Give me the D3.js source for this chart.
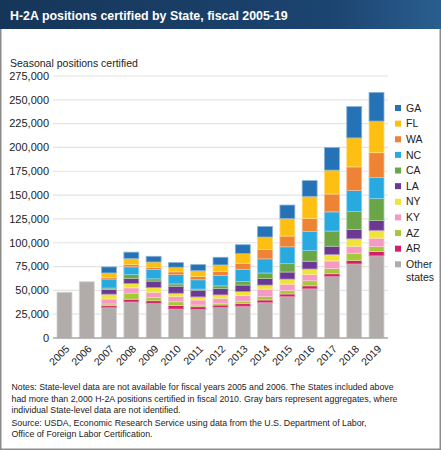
<!DOCTYPE html>
<html><head><meta charset="utf-8">
<script src="https://cdn.jsdelivr.net/npm/d3@7"></script>
<style>
body{margin:0;padding:0;background:#fff;}
svg{display:block;font-family:"Liberation Sans",Arial,Helvetica,sans-serif;}
</style></head>
<body>
<svg id="c" width="441" height="450"></svg>
<script>
const years = ["2005","2006","2007","2008","2009","2010","2011","2012","2013","2014","2015","2016","2017","2018","2019"];
const other = [48000,59000,31800,37800,36400,30400,30100,32200,33300,37100,43400,51600,64600,77700,86200];
const AR = [0,0,2100,2900,2750,3700,2750,2450,2750,2850,2850,3200,2850,3800,4550];
const AZ = [0,0,1800,6400,3200,4000,1800,1800,2550,3500,3500,5300,5600,7400,5300];
const KY = [0,0,5300,5600,5700,5700,5300,5300,5950,7850,6800,6650,7850,7400,8800];
const NY = [0,0,5000,4600,4850,3200,3200,3500,4250,4250,5300,5700,6650,7850,8150];
const LA = [0,0,4900,5300,6800,7400,7100,6650,6800,7000,7400,8050,8800,9850,10250];
const CA = [0,0,1500,3900,2450,2400,1050,2850,3800,5700,8800,11350,15900,18750,23300];
const NC = [0,0,9500,8200,9850,9700,9850,10900,12700,14850,17700,20100,20150,22250,21800];
const WA = [0,0,1700,2400,2100,3000,3500,4250,6350,9850,11250,13450,18750,24650,26150];
const FL = [0,0,4700,6300,5700,4800,6000,6800,10250,13050,18450,23300,25100,30400,33150];
const GA = [0,0,6300,6700,5950,4800,6350,8050,9200,11000,14100,16500,23600,32850,30050];
const yTicks = [0,25000,50000,75000,100000,125000,150000,175000,200000,225000,250000,275000];
const seriesKeys = ["Other states","AR","AZ","KY","NY","LA","CA","NC","WA","FL","GA"];
const seriesVals = [other,AR,AZ,KY,NY,LA,CA,NC,WA,FL,GA];
const colors = ["#b1acaa","#d41f6a","#a6c939","#f59ac3","#f0e43a","#6b3894","#6aa647","#28aae1","#ee8235","#fdbf12","#2572b6"];

const svg = d3.select("#c");
// outer frame
svg.append("rect").attr("x",0.75).attr("y",0.75).attr("width",439.5).attr("height",448.5).attr("fill","#fff").attr("stroke","#8c8c8c").attr("stroke-width",1.5);
// banner
const defs = svg.append("defs");
const g = defs.append("linearGradient").attr("id","bn").attr("x1","0").attr("x2","1").attr("y1","0").attr("y2","0");
g.append("stop").attr("offset","0").attr("stop-color","#163659");
g.append("stop").attr("offset","0.75").attr("stop-color","#1c4470");
g.append("stop").attr("offset","1").attr("stop-color","#2a5e8f");
svg.append("rect").attr("x",0).attr("y",0).attr("width",441).attr("height",29).attr("fill","url(#bn)");
svg.append("text").attr("x",10).attr("y",19.5).attr("fill","#fff").attr("font-weight","bold").attr("font-size","12.4px").text("H-2A positions certified by State, fiscal 2005-19");
svg.append("text").attr("x",10).attr("y",67).attr("fill","#222").attr("font-size","10.5px").text("Seasonal positions certified");

// data table
const table = years.map((y,i)=>{const o={year:y}; seriesKeys.forEach((k,j)=>o[k]=seriesVals[j][i]); return o;});
const stack = d3.stack().keys(seriesKeys)(table);

const x = d3.scaleBand().domain(years).range([53,388]).paddingInner(0.33).paddingOuter(0.18);
const y = d3.scaleLinear().domain([0,275000]).range([338,76]);

// grid
svg.append("g").selectAll("line").data(yTicks.filter(d=>d>0)).join("line")
  .attr("x1",53).attr("x2",388).attr("y1",d=>y(d)).attr("y2",d=>y(d))
  .attr("stroke","#e4e4e4").attr("stroke-width",1.2);
// y labels
svg.append("g").selectAll("text").data(yTicks).join("text")
  .attr("x",49).attr("y",d=>y(d)).attr("dy","0.35em").attr("text-anchor","end")
  .attr("font-size","11px").attr("fill","#222").text(d=>d3.format(",")(d));

// bars
svg.append("g").selectAll("g").data(stack).join("g")
  .attr("fill",(d,i)=>colors[i])
  .attr("stroke",(d,i)=>d3.interpolateRgb(colors[i],"#fff")(0.45))
  .attr("stroke-width",0.8)
  .selectAll("rect").data(d=>d.filter(s=>s[1]-s[0]>0)).join("rect")
  .attr("x",d=>x(d.data.year)).attr("width",x.bandwidth())
  .attr("y",d=>y(d[1])).attr("height",d=>y(d[0])-y(d[1]));

// x axis line
svg.append("line").attr("x1",53).attr("x2",388).attr("y1",338).attr("y2",338).attr("stroke","#a9a9a9").attr("stroke-width",1.5);
svg.append("g").selectAll("text").data(years).join("text")
  .attr("transform",d=>`translate(${x(d)+x.bandwidth()/2+3},${347}) rotate(-45)`)
  .attr("text-anchor","end").attr("dy","0.35em").attr("font-size","10.5px").attr("fill","#222").text(d=>d);

// legend
const legOrder = ["GA","FL","WA","NC","CA","LA","NY","KY","AZ","AR","Other states"];
const leg = svg.append("g").selectAll("g").data(legOrder).join("g")
  .attr("transform",(d,i)=>`translate(395,${108+i*15.63})`);
leg.append("rect").attr("x",0).attr("y",-3).attr("width",6).attr("height",6).attr("fill",d=>colors[seriesKeys.indexOf(d)]);
leg.append("text").attr("x",11).attr("dy","0.35em").attr("font-size","10.5px").attr("fill","#222")
  .each(function(d){
    const t=d3.select(this);
    if(d==="Other states"){ t.append("tspan").attr("x",11).text("Other"); t.append("tspan").attr("x",11).attr("dy","1.25em").text("states"); }
    else t.text(d);
  });

// notes
const notes = [
 ["Notes: State-level data are not available for fiscal years 2005 and 2006. The States included above",382],
 ["had more than 2,000 H-2A positions certified in fiscal 2010. Gray bars represent aggregates, where",386],
 ["individual State-level data are not identified.",169],
 ["Source: USDA, Economic Research Service using data from the U.S. Department of Labor,",355],
 ["Office of Foreign Labor Certification.",141]
];
const ny = [390,401.5,413,425.5,437];
svg.append("g").selectAll("text").data(notes).join("text")
  .attr("x",11.5).attr("y",(d,i)=>ny[i]).attr("font-size","9px").attr("fill","#222")
  .attr("textLength",d=>d[1]).attr("lengthAdjust","spacingAndGlyphs").text(d=>d[0]);
</script>
</body></html>
